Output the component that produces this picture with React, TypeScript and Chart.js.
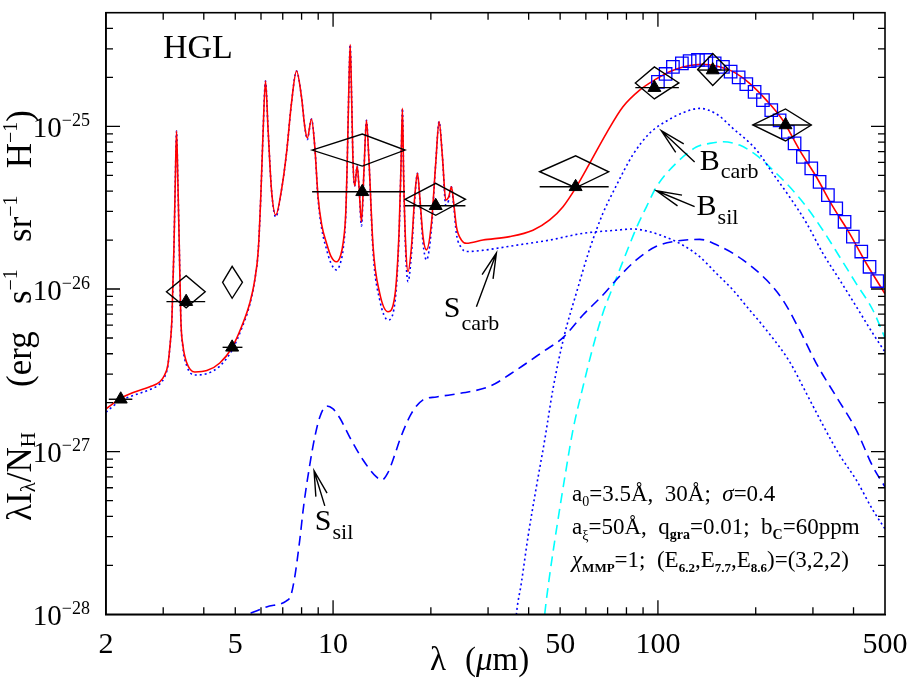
import React, { useEffect, useRef } from 'react';
import { Chart, registerables } from 'chart.js';

Chart.register(...registerables);

// ---------------- data (wavelength in micron, lambda*I_lambda/N_H in erg s^-1 sr^-1 H^-1) ----------------
const totalModel: [number, number][] = [
  [2.0, 1.83e-27], [2.21, 2.12e-27], [2.45, 2.33e-27], [2.73, 2.51e-27], [2.93, 2.69e-27], [3.03, 2.96e-27],
  [3.1, 3.41e-27], [3.145, 4.4e-27], [3.19, 6.45e-27], [3.236, 1.74e-26], [3.269, 4.68e-26], [3.297, 9.36e-26],
  [3.328, 4.68e-26], [3.364, 1.74e-26], [3.4, 6.45e-27], [3.448, 4.53e-27], [3.547, 3.51e-27], [3.753, 3.09e-27],
  [4.088, 3.15e-27], [4.481, 3.51e-27], [4.879, 4.34e-27], [5.238, 5.92e-27], [5.542, 8.2e-27], [5.742, 1.14e-26],
  [5.886, 1.74e-26], [5.992, 3.73e-26], [6.077, 8.24e-26], [6.194, 1.9e-25], [6.31, 9.49e-26], [6.464, 4.06e-26],
  [6.663, 2.85e-26], [6.937, 4.06e-26], [7.189, 6.85e-26], [7.447, 1.39e-25], [7.716, 2.19e-25], [7.994, 1.52e-25],
  [8.184, 9.94e-26], [8.33, 8.48e-26], [8.582, 1.11e-25], [8.785, 7.49e-26], [8.99, 3.69e-26], [9.23, 2.47e-26],
  [9.543, 1.92e-26], [9.838, 1.6e-26], [10.24, 1.47e-26], [10.56, 1.62e-26], [10.74, 1.92e-26], [10.94, 2.93e-26],
  [11.06, 6.21e-26], [11.18, 1.67e-25], [11.29, 3.18e-25], [11.41, 1.45e-25], [11.52, 5.95e-26], [11.66, 4.3e-26],
  [11.86, 5.7e-26], [12.02, 4.25e-26], [12.23, 2.59e-26], [12.45, 5.39e-26], [12.67, 1.09e-25], [12.88, 6.5e-26],
  [13.28, 1.82e-26], [13.92, 9.41e-27], [14.77, 7.25e-27], [15.48, 8.97e-27], [15.97, 2.3e-26], [16.19, 5.92e-26],
  [16.35, 1.29e-25], [16.5, 4.68e-26], [16.74, 1.82e-26], [17.01, 1.28e-26], [17.43, 1.82e-26], [17.84, 3.69e-26],
  [18.19, 5.14e-26], [18.49, 3.69e-26], [18.92, 2.1e-26], [19.39, 1.74e-26], [20.08, 2.53e-26], [20.7, 5.92e-26],
  [21.2, 1.07e-25], [21.71, 6.5e-26], [22.23, 3.52e-26], [22.7, 3.69e-26], [23.14, 4.25e-26], [23.52, 3.36e-26],
  [23.98, 2.41e-26], [24.84, 2.0e-26], [25.73, 1.91e-26], [28.94, 2.0e-26], [34.98, 2.1e-26], [41.24, 2.3e-26],
  [46.44, 2.66e-26], [51.03, 3.21e-26], [56.09, 4.25e-26], [61.63, 5.92e-26], [69.38, 9.06e-26], [78.04, 1.32e-25],
  [87.84, 1.67e-25], [97.68, 1.93e-25], [108.6, 2.17e-25], [119.4, 2.32e-25], [137.5, 2.41e-25], [151.2, 2.35e-25],
  [170.2, 2.17e-25], [191.5, 1.84e-25], [215.6, 1.45e-25], [242.4, 1.09e-25], [272.9, 7.15e-26], [307.2, 4.9e-26],
  [345.6, 3.21e-26], [388.9, 2.2e-26], [437.7, 1.44e-26], [500, 9.35e-27],
];

const smallCarb: [number, number][] = [
  [2.0, 1.75e-27], [2.21, 2.05e-27], [2.45, 2.23e-27], [2.73, 2.41e-27], [2.93, 2.61e-27], [3.03, 2.88e-27],
  [3.1, 3.36e-27], [3.145, 4.4e-27], [3.19, 6.45e-27], [3.236, 1.74e-26], [3.269, 4.68e-26], [3.297, 9.36e-26],
  [3.328, 4.68e-26], [3.364, 1.74e-26], [3.4, 6.45e-27], [3.448, 4.4e-27], [3.547, 3.36e-27], [3.753, 2.96e-27],
  [4.088, 3.02e-27], [4.481, 3.36e-27], [4.879, 4.19e-27], [5.238, 5.76e-27], [5.542, 8.03e-27], [5.742, 1.14e-26],
  [5.886, 1.74e-26], [5.992, 3.73e-26], [6.077, 8.24e-26], [6.194, 1.9e-25], [6.31, 9.49e-26], [6.464, 4.06e-26],
  [6.663, 2.77e-26], [6.937, 4.06e-26], [7.189, 6.85e-26], [7.447, 1.39e-25], [7.716, 2.19e-25], [7.994, 1.52e-25],
  [8.184, 9.94e-26], [8.33, 8.3e-26], [8.582, 1.11e-25], [8.785, 7.49e-26], [8.99, 3.57e-26], [9.23, 2.34e-26],
  [9.543, 1.76e-26], [9.838, 1.45e-26], [10.24, 1.31e-26], [10.56, 1.47e-26], [10.74, 1.76e-26], [10.94, 2.81e-26],
  [11.06, 6.21e-26], [11.18, 1.67e-25], [11.29, 3.18e-25], [11.41, 1.45e-25], [11.52, 5.95e-26], [11.66, 4.3e-26],
  [11.86, 5.7e-26], [12.02, 4.25e-26], [12.23, 2.44e-26], [12.45, 5.39e-26], [12.67, 1.09e-25], [12.88, 6.5e-26],
  [13.28, 1.69e-26], [13.92, 8.56e-27], [14.77, 6.45e-27], [15.48, 8.09e-27], [15.97, 2.18e-26], [16.19, 5.92e-26],
  [16.35, 1.29e-25], [16.5, 4.68e-26], [16.74, 1.64e-26], [17.01, 1.11e-26], [17.43, 1.64e-26], [17.84, 3.57e-26],
  [18.19, 5.14e-26], [18.49, 3.57e-26], [18.92, 1.92e-26], [19.39, 1.51e-26], [20.08, 2.34e-26], [20.7, 5.92e-26],
  [21.2, 1.07e-25], [21.71, 6.5e-26], [22.23, 3.28e-26], [22.7, 3.52e-26], [23.14, 4.25e-26], [23.52, 3.24e-26],
  [23.98, 2.18e-26], [24.84, 1.79e-26], [25.73, 1.7e-26], [28.94, 1.73e-26], [32.58, 1.79e-26], [36.67, 1.86e-26],
  [46.44, 2.0e-26], [58.77, 2.2e-26], [74.47, 2.3e-26], [83.61, 2.34e-26], [94.3, 2.25e-26], [106.1, 2.08e-26],
  [119.4, 1.86e-26], [134.4, 1.58e-26], [151.2, 1.25e-26], [170.2, 9.86e-27], [191.5, 7.43e-27], [215.6, 5.6e-27],
  [254.3, 3.57e-27], [286.2, 2.29e-27], [321.9, 1.46e-27], [362.4, 9.54e-28], [407.8, 6.7e-28], [458.7, 4.38e-28],
  [500, 3.35e-28],
];

const bigCarb: [number, number][] = [
  [36.36, 8.02e-29], [36.67, 1.0e-28], [37.99, 1.56e-28], [39.81, 2.99e-28], [42.25, 6.07e-28], [44.82, 1.18e-27],
  [47.53, 2.43e-27], [51.27, 5.0e-27], [56.21, 9.59e-27], [61.63, 1.76e-26], [67.56, 2.89e-26], [74.62, 4.36e-26],
  [83.61, 6.66e-26], [94.3, 9.09e-26], [106.4, 1.08e-25], [119.1, 1.21e-25], [134.4, 1.29e-25], [151.5, 1.19e-25],
  [169.8, 9.76e-26], [201.2, 7.15e-26], [225.4, 5.16e-26], [254.3, 3.68e-26], [286.8, 2.54e-26], [321.2, 1.67e-26],
  [362.4, 1.14e-26], [408.7, 7.75e-27], [457.7, 5.37e-27], [500, 4.1e-27],
];

const smallSil: [number, number][] = [
  [5.02, 9.3e-29], [5.476, 1.0e-28], [6.239, 1.11e-28], [7.189, 1.21e-28], [7.409, 1.3e-28], [7.623, 1.7e-28],
  [7.898, 2.87e-28], [8.125, 4.7e-28], [8.478, 8.29e-28], [8.785, 1.23e-27], [9.1, 1.63e-27], [9.543, 1.91e-27],
  [9.979, 1.84e-27], [10.49, 1.61e-27], [11.25, 1.23e-27], [12.37, 8.89e-28], [13.6, 6.99e-28], [14.12, 6.7e-28],
  [14.74, 7.4e-28], [15.48, 9.54e-28], [16.04, 1.18e-27], [17.43, 1.72e-27], [18.92, 2.08e-27], [20.81, 2.17e-27],
  [25.12, 2.3e-27], [30.35, 2.52e-27], [36.67, 3.18e-27], [44.28, 4.12e-27], [51.03, 5.03e-27], [58.77, 6.92e-27],
  [67.71, 9.19e-27], [74.47, 1.14e-26], [85.8, 1.51e-26], [98.9, 1.83e-26], [113.9, 1.97e-26], [134.4, 2.02e-26],
  [158.5, 1.79e-26], [182.6, 1.51e-26], [215.6, 1.14e-26], [242.4, 8.56e-27], [272.9, 5.6e-27], [307.2, 3.49e-27],
  [353.9, 2.18e-27], [407.8, 1.36e-27], [458.7, 8.09e-28], [500, 6.07e-28],
];

const bigSil: [number, number][] = [
  [44.35, 8.02e-29], [44.82, 1.0e-28], [46.44, 1.75e-28], [48.69, 3.3e-28], [51.64, 6.89e-28], [54.76, 1.36e-27],
  [58.77, 2.5e-27], [63.1, 4.4e-27], [67.71, 7.12e-27], [72.68, 1.03e-26], [79.94, 1.67e-26], [85.8, 2.37e-26],
  [92.1, 3.19e-26], [98.9, 4.24e-26], [113.9, 5.95e-26], [131.3, 7.46e-26], [144.2, 7.86e-26], [158.5, 8.04e-26],
  [178.4, 7.67e-26], [200.8, 6.66e-26], [225.9, 5.39e-26], [254.3, 4.25e-26], [286.2, 3.21e-26], [321.9, 2.3e-26],
  [362.4, 1.58e-26], [407.8, 1.08e-26], [458.7, 7.43e-27], [500, 5.0e-27],
];

const firasPoints: [number, number][] = [
  [100, 1.88e-25], [105.6, 2.1e-25], [111.2, 2.32e-25], [118.5, 2.44e-25], [125.2, 2.52e-25], [132.8, 2.56e-25],
  [140.9, 2.56e-25], [149.5, 2.44e-25], [158.5, 2.32e-25], [167.4, 2.17e-25], [177.2, 2.0e-25], [187.1, 1.82e-25],
  [198.4, 1.63e-25], [210.5, 1.45e-25], [223.3, 1.26e-25], [236.9, 1.09e-25], [251.2, 9.26e-26], [263.4, 7.86e-26],
  [279.4, 6.5e-26], [296.5, 5.52e-26], [314.5, 4.56e-26], [333.6, 3.78e-26], [353.9, 3.13e-26], [375.4, 2.59e-26],
  [398.1, 2.1e-26], [422.6, 1.7e-26], [448.1, 1.37e-26], [473.3, 1.12e-26],
];

// DIRBE / IRAS bands
const bandCenter = [2.22, 3.53, 4.89, 12.3, 20.7, 55.8, 97.5, 147.5, 247];
const bandLow = [2.04, 3.07, 4.57, 8.62, 16.65, 43.25, 85.2, 132.5, 196.0];
const bandHigh = [2.41, 4.04, 5.26, 16.65, 25.55, 70.53, 116.0, 165.0, 296.5];
const bandObserved = [2.1e-27, 8.36e-27, 4.38e-27, 3.96e-26, 3.25e-26, 4.25e-26, 1.73e-25, 2.22e-25, 1.02e-25];
const bandModel: (number | null)[] = [null, 9.62e-27, 1.1e-26, 7.15e-26, 3.56e-26, 5.26e-26, 1.85e-25, 2.24e-25, 1.02e-25];

// tick labels
const xTickLabels = [2, 5, 10, 50, 100, 500];
const yTickExponents = [-28, -27, -26, -25];

// ---------------- layout / text ----------------
const FONT = '"Liberation Serif", "Times New Roman", serif';
type Seg = { t: string; s: number; dy?: number; it?: boolean; b?: boolean };

const annotations = [
  { tip: [102.4, 9.4e-26], tail: [129.7, 6.03e-26], at: [134.4, 5.39e-26], main: 'B', sub: 'carb', subDy: 8 },
  { tip: [98.9, 4.02e-26], tail: [129.7, 3.21e-26], at: [131.5, 2.85e-26], main: 'B', sub: 'sil', subDy: 9 },
  { tip: [31.83, 1.665e-26], tail: [27.62, 7.78e-27], at: [21.91, 6.73e-27], main: 'S', sub: 'carb', subDy: 13 },
  { tip: [8.74, 7.64e-28], tail: [9.43, 4.64e-28], at: [8.785, 3.3e-28], main: 'S', sub: 'sil', subDy: 9 },
];

const paramLines: Seg[][] = [
  [{ t: 'a', s: 23 }, { t: '0', s: 14, dy: 5 }, { t: '=3.5Å,  30Å;  ', s: 23 }, { t: 'σ', s: 23, it: true }, { t: '=0.4', s: 23 }],
  [{ t: 'a', s: 23 }, { t: 'ξ', s: 14, dy: 6 }, { t: '=50Å,  q', s: 23 }, { t: 'gra', s: 14, dy: 5, b: true },
   { t: '=0.01;  b', s: 23 }, { t: 'C', s: 14, dy: 5, b: true }, { t: '=60ppm', s: 23 }],
  [{ t: 'χ', s: 23, it: true }, { t: 'MMP', s: 13, dy: 5, b: true }, { t: '=1;  (E', s: 23 }, { t: '6.2', s: 13, dy: 5, b: true },
   { t: ',E', s: 23 }, { t: '7.7', s: 13, dy: 5, b: true }, { t: ',E', s: 23 }, { t: '8.6', s: 13, dy: 5, b: true },
   { t: ')=(3,2,2)', s: 23 }],
];

function font(s: number, it?: boolean, b?: boolean) {
  return `${it ? 'italic ' : ''}${b ? 'bold ' : ''}${s}px ${FONT}`;
}
function measure(ctx: CanvasRenderingContext2D, segs: Seg[]) {
  let w = 0;
  for (const g of segs) { ctx.font = font(g.s, g.it, g.b); w += ctx.measureText(g.t).width; }
  return w;
}
function drawSegs(ctx: CanvasRenderingContext2D, segs: Seg[], x: number, y: number, target?: number) {
  let extra = 0;
  if (target) {
    const n = segs.filter((g) => g.t === ' ').length;
    if (n) extra = (target - measure(ctx, segs)) / n;
  }
  let cx = x;
  for (const g of segs) {
    ctx.font = font(g.s, g.it, g.b);
    ctx.fillText(g.t, cx, y + (g.dy || 0));
    cx += ctx.measureText(g.t).width + (g.t === ' ' ? extra : 0);
  }
  return cx - x;
}

const sedPlugin = {
  id: 'sedDecor',
  afterDatasetsDraw(chart: any) {
    const { ctx, scales } = chart;
    const xs = scales.x, ys = scales.y;
    ctx.save();
    ctx.strokeStyle = '#000';
    ctx.lineWidth = 1.4;
    for (let i = 0; i < bandCenter.length; i++) {
      const xl = xs.getPixelForValue(bandLow[i]);
      const xh = xs.getPixelForValue(bandHigh[i]);
      const xc = xs.getPixelForValue(bandCenter[i]);
      const yo = ys.getPixelForValue(bandObserved[i]);
      ctx.beginPath();
      ctx.moveTo(xl, yo); ctx.lineTo(xh, yo);
      ctx.stroke();
      const m = bandModel[i];
      if (m != null) {
        const ym = ys.getPixelForValue(m);
        ctx.beginPath();
        ctx.moveTo(xl, ym); ctx.lineTo(xc, ym - 16); ctx.lineTo(xh, ym); ctx.lineTo(xc, ym + 16);
        ctx.closePath();
        ctx.stroke();
      }
    }
    ctx.restore();
  },
  afterDraw(chart: any) {
    const { ctx, chartArea: a, scales } = chart;
    const xs = scales.x, ys = scales.y;
    ctx.save();
    ctx.strokeStyle = '#000';
    ctx.fillStyle = '#000';
    // frame
    ctx.lineWidth = 1.6;
    ctx.strokeRect(a.left, a.top, a.right - a.left, a.bottom - a.top);
    // ticks
    ctx.lineWidth = 1.3;
    ctx.beginPath();
    for (let d = 1; d <= 100; d *= 10) {
      for (let m = 1; m <= 9; m++) {
        const v = m * d;
        if (v <= 2 || v >= 500) continue;
        const px = xs.getPixelForValue(v);
        const len = m === 1 ? 14 : 7;
        ctx.moveTo(px, a.bottom); ctx.lineTo(px, a.bottom - len);
        ctx.moveTo(px, a.top); ctx.lineTo(px, a.top + len);
      }
    }
    for (let e = -28; e <= -25; e++) {
      for (let m = 1; m <= 9; m++) {
        const v = m * Math.pow(10, e);
        if (v <= 1.0001e-28 || v >= 4.99e-25) continue;
        const py = ys.getPixelForValue(v);
        const len = m === 1 ? 14 : 7;
        ctx.moveTo(a.left, py); ctx.lineTo(a.left + len, py);
        ctx.moveTo(a.right, py); ctx.lineTo(a.right - len, py);
      }
    }
    ctx.stroke();
    // tick labels
    ctx.textAlign = 'left';
    ctx.textBaseline = 'alphabetic';
    for (const v of xTickLabels) {
      const px = xs.getPixelForValue(v);
      const segs: Seg[] = [{ t: String(v), s: 30 }];
      const w = measure(ctx, segs);
      drawSegs(ctx, segs, px - w / 2, a.bottom + 39);
    }
    for (const e of yTickExponents) {
      const py = ys.getPixelForValue(Math.pow(10, e));
      const segs: Seg[] = [{ t: '10', s: 29 }, { t: '−' + String(-e), s: 18, dy: -11 }];
      const w = measure(ctx, segs);
      drawSegs(ctx, segs, a.left - 16 - w, py + 10.5);
    }
    // axis titles
    drawSegs(ctx, [{ t: 'λ', s: 33 }], a.left + 324, a.bottom + 56);
    drawSegs(ctx, [{ t: '(', s: 33 }, { t: 'μ', s: 33, it: true }, { t: 'm)', s: 33 }], a.left + 359, a.bottom + 56);
    ctx.save();
    ctx.translate(31, 521);
    ctx.rotate(-Math.PI / 2);
    drawSegs(ctx, [{ t: 'λI', s: 35 }, { t: 'λ', s: 21, dy: 4 }, { t: '/N', s: 35 }, { t: 'H', s: 21, dy: 4 }], 0, 0);
    drawSegs(ctx, [
      { t: '(erg', s: 35 }, { t: ' ', s: 35 }, { t: 's', s: 35 }, { t: '−1', s: 20, dy: -14 }, { t: ' ', s: 35 },
      { t: 'sr', s: 35 }, { t: '−1', s: 20, dy: -14 }, { t: ' ', s: 35 }, { t: 'H', s: 35 }, { t: '−1', s: 20, dy: -14 },
      { t: ')', s: 35 },
    ], 134, 0, 277);
    ctx.restore();
    // panel label
    drawSegs(ctx, [{ t: 'HGL', s: 34 }], a.left + 57, a.top + 45.5);
    // parameters
    paramLines.forEach((line, i) => drawSegs(ctx, line, a.left + 466, a.top + 488 + i * 33));
    // annotations with arrows
    ctx.lineWidth = 1.4;
    for (const an of annotations) {
      const tx = xs.getPixelForValue(an.tip[0]), ty = ys.getPixelForValue(an.tip[1]);
      const sx = xs.getPixelForValue(an.tail[0]), sy = ys.getPixelForValue(an.tail[1]);
      const ang = Math.atan2(sy - ty, sx - tx);
      const hl = 26, ha = (13 * Math.PI) / 180;
      ctx.beginPath();
      ctx.moveTo(sx, sy); ctx.lineTo(tx, ty);
      ctx.moveTo(tx + hl * Math.cos(ang + ha), ty + hl * Math.sin(ang + ha)); ctx.lineTo(tx, ty);
      ctx.lineTo(tx + hl * Math.cos(ang - ha), ty + hl * Math.sin(ang - ha));
      ctx.stroke();
      const lx = xs.getPixelForValue(an.at[0]), ly = ys.getPixelForValue(an.at[1]);
      const w = drawSegs(ctx, [{ t: an.main, s: 30 }], lx, ly);
      drawSegs(ctx, [{ t: an.sub, s: 22 }], lx + w + 1, ly + an.subDy);
    }
    ctx.restore();
  },
};

const toXY = (arr: [number, number][]) => arr.map(([x, y]) => ({ x, y }));

function lineSet(arr: [number, number][], color: string, dash: number[]) {
  return {
    data: toXY(arr),
    showLine: true,
    borderColor: color,
    borderWidth: 1.6,
    borderDash: dash,
    pointRadius: 0,
    fill: false,
    cubicInterpolationMode: 'monotone',
  };
}

export default function App() {
  const ref = useRef<HTMLCanvasElement>(null);
  useEffect(() => {
    const canvas = ref.current as HTMLCanvasElement;
    const chart = new Chart(canvas, {
      type: 'scatter',
      data: {
        datasets: [
          {
            data: toXY(bandCenter.map((c, i) => [c, bandObserved[i]] as [number, number])),
            pointStyle: 'triangle',
            pointRadius: 7.5,
            backgroundColor: '#000',
            borderColor: '#000',
            borderWidth: 1,
            showLine: false,
          },
          {
            data: toXY(firasPoints),
            pointStyle: 'rect',
            pointRadius: 8.8,
            backgroundColor: 'rgba(0,0,0,0)',
            borderColor: '#0000ff',
            borderWidth: 1.3,
            showLine: false,
          },
          lineSet(totalModel, '#ff0000', []),
          lineSet(smallCarb, '#0000ff', [2, 3]),
          lineSet(bigCarb, '#0000ff', [2, 3]),
          lineSet(smallSil, '#0000ff', [10, 6]),
          lineSet(bigSil, '#00ffff', [10, 6]),
        ] as any,
      },
      options: {
        responsive: false,
        animation: false,
        devicePixelRatio: 1,
        events: [],
        layout: { padding: { left: 106, right: 26, top: 12.7, bottom: 66.7 } },
        plugins: { legend: { display: false }, tooltip: { enabled: false } },
        scales: {
          x: {
            type: 'logarithmic', min: 2, max: 500, bounds: 'data',
            ticks: { display: false }, grid: { display: false, drawTicks: false },
            border: { display: true, color: '#000', width: 1.6 }, title: { display: false },
          },
          y: {
            type: 'logarithmic', min: 1e-28, max: 5e-25, bounds: 'data',
            ticks: { display: false }, grid: { display: false, drawTicks: false },
            border: { display: true, color: '#000', width: 1.6 }, title: { display: false },
          },
        },
      } as any,
      plugins: [sedPlugin],
    });
    return () => chart.destroy();
  }, []);
  return (
    <canvas
      ref={ref}
      width={911}
      height={681}
      style={{ position: 'fixed', left: 0, top: 0, width: 911, height: 681, background: '#fff' }}
    />
  );
}
